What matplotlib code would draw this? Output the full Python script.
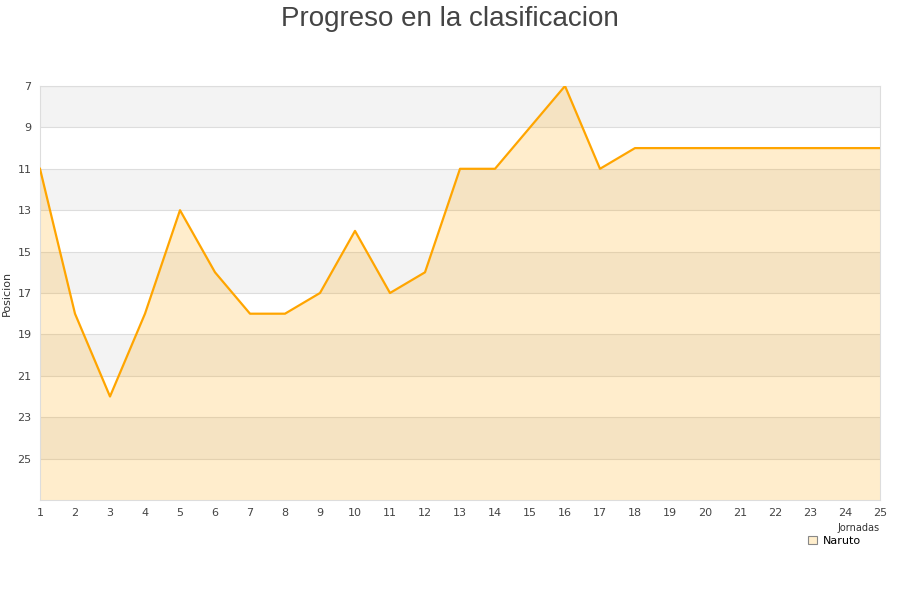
import matplotlib
matplotlib.use("Agg")
import matplotlib.pyplot as plt
from matplotlib.patches import Patch

# Data
jornadas = list(range(1, 26))
posicion = [11, 18, 22, 18, 13, 16, 18, 18, 17, 14, 17, 16, 11,
            11, 9, 7, 11, 10, 10, 10, 10, 10, 10, 10, 10]
y_ticks = [7, 9, 11, 13, 15, 17, 19, 21, 23, 25]
band_starts = [7, 11, 15, 19, 23]

fig = plt.figure(figsize=(9, 6), dpi=100)
ax = fig.add_axes([40 / 900, 100 / 600, 840 / 900, 414 / 600])

# Alternating background bands
for b in band_starts:
    ax.axhspan(b, b + 2, color="#f3f3f3", zorder=0, lw=0)

for t in y_ticks:
    ax.axhline(t, color="#dddddd", lw=0.8, zorder=1)

# Area + line
ax.fill_between(jornadas, posicion, 27, color="#ffa500", alpha=0.2, lw=0, zorder=2)
ax.plot(jornadas, posicion, color="#ffa500", lw=1.6, zorder=3, label="Naruto")

ax.set_xlim(1, 25)
ax.set_ylim(27, 7)
ax.set_xticks(jornadas)
ax.set_yticks(y_ticks)
ax.tick_params(length=0, labelsize=8, colors="#444444", pad=6)

for s in ax.spines.values():
    s.set_color("#dddddd")

ax.set_ylabel("Posicion", fontsize=8, color="#333333")
ax.yaxis.set_label_coords(-0.033, 0.5)
ax.set_xlabel("Jornadas", fontsize=7, color="#333333", ha="right")
ax.xaxis.set_label_coords(1.0, -0.055)

fig.suptitle("Progreso en la clasificacion", fontsize=20, color="#444444",
             family="Liberation Sans", y=0.99)

handle = Patch(facecolor="#ffeecc", edgecolor="#888888", lw=0.8)
leg = fig.legend([handle], ["Naruto"], loc="upper left",
                 bbox_to_anchor=(800 / 900, 1 - 528 / 600), frameon=True,
                 fontsize=8, handlelength=0.8, handleheight=0.8,
                 borderpad=0.2, handletextpad=0.6)
leg.get_frame().set_edgecolor("white")
leg.get_frame().set_facecolor("white")
leg.set_zorder(10)

plt.savefig("out.png", dpi=100)
